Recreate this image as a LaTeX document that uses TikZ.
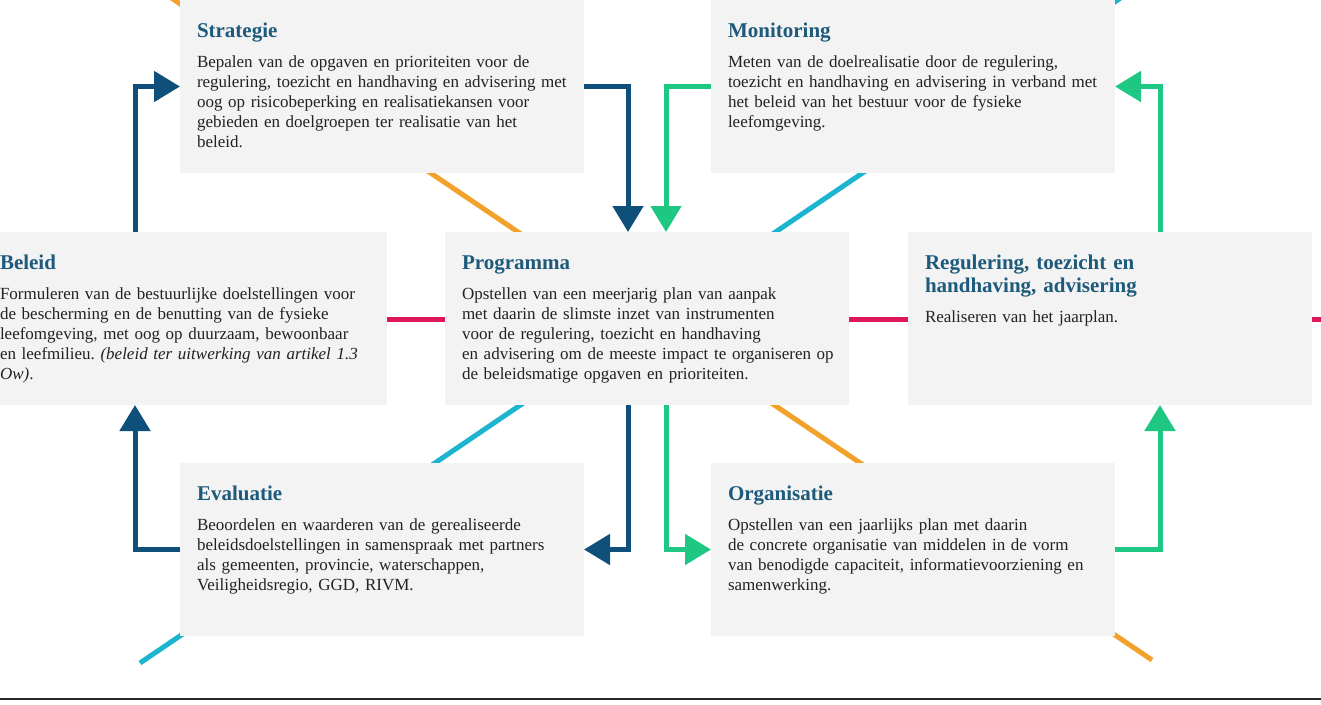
\documentclass[tikz,border=0pt]{standalone}
\usepackage{fontspec}
\setmainfont{Liberation Serif}
\usetikzlibrary{arrows.meta}
\frenchspacing

\definecolor{kopblauw}{HTML}{1D5A7B}
\definecolor{donkerblauw}{HTML}{0E5079}
\definecolor{groen}{HTML}{1EC782}
\definecolor{rood}{HTML}{E0155B}
\definecolor{oranje}{HTML}{F2A22A}
\definecolor{cyaan}{HTML}{1CB4CF}
\definecolor{vakgrijs}{HTML}{F3F3F3}
\definecolor{tekstzwart}{HTML}{222222}

\begin{document}
\begin{tikzpicture}[x=1pt, y=-1pt, >={Triangle[length=26pt,width=30pt]}, line width=5pt,
    vak/.style={fill=vakgrijs, anchor=north west, minimum width=404pt, minimum height=173pt, inner sep=0pt, outer sep=0pt},
    kop/.style={anchor=base west, text width=390pt, align=left, inner sep=0pt, outer sep=0pt, text=kopblauw, font=\fontsize{21}{23}\selectfont\bfseries},
    tekst/.style={anchor=base west, text width=390pt, align=left, inner sep=0pt, outer sep=0pt, text=tekstzwart, font=\fontsize{17}{20}\selectfont},
    blauw/.style={->, draw=donkerblauw},
    groenpijl/.style={->, draw=groen}]
    \useasboundingbox (0,0) rectangle (1321,704);
    \clip (0,0) rectangle (1321,704);

    \coordinate (oranje-a) at (167,-5);
    \coordinate (oranje-b) at (1152,660);
    \coordinate (cyaan-a) at (140,663);
    \coordinate (cyaan-b) at (1125,-5);
    \coordinate (rood-a) at (-10,319);
    \coordinate (rood-b) at (1331,319);
    \draw[oranje] (oranje-a) -- (oranje-b);
    \draw[cyaan] (cyaan-a) -- (cyaan-b);
    \draw[rood] (rood-a) -- (rood-b);

    \node[vak] (strategie) at (180,0) {};
    \node[vak] (monitoring) at (711,0) {};
    \node[vak] (beleid) at (-17,232) {};
    \node[vak] (programma) at (445,232) {};
    \node[vak] (regulering) at (908,232) {};
    \node[vak] (evaluatie) at (180,463) {};
    \node[vak] (organisatie) at (711,463) {};

    \node[kop] (strategie-kop) at ([xshift=17pt,yshift=-37pt]strategie.north west) {Strategie};
    \node[tekst] (strategie-tekst) at ([xshift=17pt,yshift=-67pt]strategie.north west)
        {Bepalen van de opgaven en prioriteiten voor de\\
         regulering, toezicht en handhaving en advisering met\\
         oog op risicobeperking en realisatiekansen voor\\
         gebieden en doelgroepen ter realisatie van het\\
         beleid.};
    \node[kop] (monitoring-kop) at ([xshift=17pt,yshift=-37pt]monitoring.north west) {Monitoring};
    \node[tekst] (monitoring-tekst) at ([xshift=17pt,yshift=-67pt]monitoring.north west)
        {Meten van de doelrealisatie door de regulering,\\
         toezicht en handhaving en advisering in verband met\\
         het beleid van het bestuur voor de fysieke\\
         leefomgeving.};
    \node[kop] (beleid-kop) at ([xshift=17pt,yshift=-37pt]beleid.north west) {Beleid};
    \node[tekst] (beleid-tekst) at ([xshift=17pt,yshift=-67pt]beleid.north west)
        {Formuleren van de bestuurlijke doelstellingen voor\\
         de bescherming en de benutting van de fysieke\\
         leefomgeving, met oog op duurzaam, bewoonbaar\\
         en leefmilieu. \textit{(beleid ter uitwerking van artikel 1.3}\\
         \textit{Ow)}.};
    \node[kop] (programma-kop) at ([xshift=17pt,yshift=-37pt]programma.north west) {Programma};
    \node[tekst] (programma-tekst) at ([xshift=17pt,yshift=-67pt]programma.north west)
        {Opstellen van een meerjarig plan van aanpak\\
         met daarin de slimste inzet van instrumenten\\
         voor de regulering, toezicht en handhaving\\
         en advisering om de meeste impact te organiseren op\\
         de beleidsmatige opgaven en prioriteiten.};
    \node[kop] (regulering-kop) at ([xshift=17pt,yshift=-37pt]regulering.north west)
        {Regulering, toezicht en\\ handhaving, advisering};
    \node[tekst] (regulering-tekst) at ([xshift=17pt,yshift=-90pt]regulering.north west)
        {Realiseren van het jaarplan.};
    \node[kop] (evaluatie-kop) at ([xshift=17pt,yshift=-37pt]evaluatie.north west) {Evaluatie};
    \node[tekst] (evaluatie-tekst) at ([xshift=17pt,yshift=-67pt]evaluatie.north west)
        {Beoordelen en waarderen van de gerealiseerde\\
         beleidsdoelstellingen in samenspraak met partners\\
         als gemeenten, provincie, waterschappen,\\
         Veiligheidsregio, GGD, RIVM.};
    \node[kop] (organisatie-kop) at ([xshift=17pt,yshift=-37pt]organisatie.north west) {Organisatie};
    \node[tekst] (organisatie-tekst) at ([xshift=17pt,yshift=-67pt]organisatie.north west)
        {Opstellen van een jaarlijks plan met daarin\\
         \makebox[357pt][s]{de concrete organisatie van middelen in de vorm}\\
         van benodigde capaciteit, informatievoorziening en\\
         samenwerking.};

    \coordinate (links) at ([xshift=-45pt]strategie.west);
    \coordinate (rechts) at ([xshift=45pt]monitoring.east);
    \draw[blauw] (links |- beleid.north) |- (strategie.west);
    \draw[blauw] (strategie.east) -| ([xshift=-19pt]programma.north);
    \draw[blauw] ([xshift=-19pt]programma.south) |- (evaluatie.east);
    \draw[blauw] (evaluatie.west) -| (links |- beleid.south);
    \draw[groenpijl] (monitoring.west) -| ([xshift=19pt]programma.north);
    \draw[groenpijl] ([xshift=19pt]programma.south) |- (organisatie.west);
    \draw[groenpijl] (organisatie.east) -| (rechts |- regulering.south);
    \draw[groenpijl] (rechts |- regulering.north) |- (monitoring.east);

    \draw[line width=2pt, black!85] (0,699) -- (1321,699);
\end{tikzpicture}
\end{document}
